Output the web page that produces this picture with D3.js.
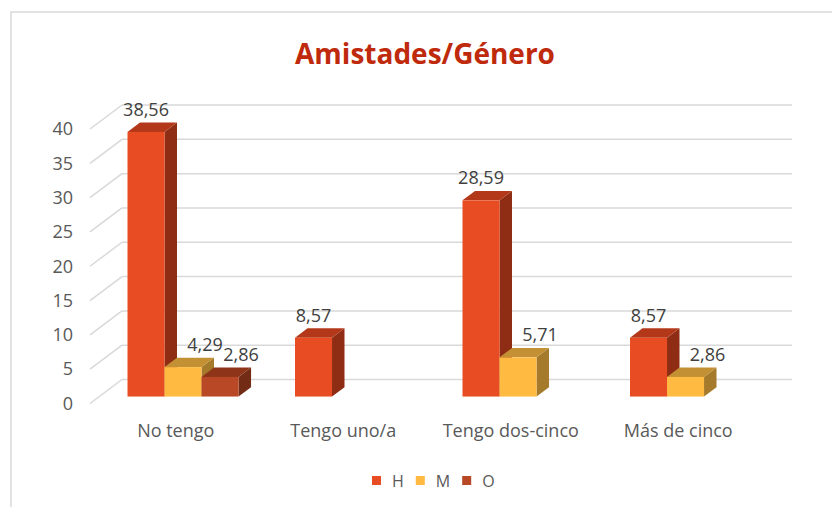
<!DOCTYPE html>
<html>
<head>
<meta charset="utf-8">
<script src="https://cdn.jsdelivr.net/npm/d3@7"></script>
<style>
  body { margin: 0; background: #fff; }
  svg { display: block; font-family: "Open Sans", sans-serif; }
</style>
</head>
<body>
<div id="chart"></div>
<script>
const categories = ["No tengo", "Tengo uno/a", "Tengo dos-cinco", "Más de cinco"];
const seriesNames = ["H", "M", "O"];
const valuesH = [38.56, 8.57, 28.59, 8.57];
const valuesM = [4.29, 0, 5.71, 2.86];
const valuesO = [2.86, 0, 0, 0];
const yTicks = [0, 5, 10, 15, 20, 25, 30, 35, 40];

const width = 832, height = 507;

// faces: front, top, side
const colors = {
    H: ["#E84C22", "#B3381A", "#8E2D13"],
    M: ["#FFBA42", "#C39034", "#A57A2A"],
    O: ["#B94826", "#8E3519", "#722B15"]
};
const labelShift = { H: 0, M: 22, O: 21 };

const series = [
    { name: "H", values: valuesH },
    { name: "M", values: valuesM },
    { name: "O", values: valuesO }
];

const fmt = d3.formatLocale({ decimal: ",", thousands: ".", grouping: [3], currency: ["", ""] }).format(".2f");

// 3d depth: full floor depth moves (32, -24)
const DX = 32, DY = -24;
const zF = 0.29, zB = 0.68;

const y = d3.scaleLinear().domain([0, 40]).range([403.5, 129]);
const x0 = d3.scaleBand().domain(categories).range([90, 760])
        .paddingInner(0.337).paddingOuter(0.1685);
const x1 = d3.scaleBand().domain(seriesNames).range([0, x0.bandwidth()]);

const proj = (x, v, z) => [x + z * DX, y(v) + z * DY];

const svg = d3.select("#chart").append("svg")
        .attr("width", width)
        .attr("height", height);

svg.append("rect")
    .attr("x", 11).attr("y", 12)
    .attr("width", width + 20).attr("height", height + 20)
    .attr("fill", "#fff")
    .attr("stroke", "#D9D9D9")
    .attr("stroke-width", 1.5);

svg.append("text")
    .attr("x", 425).attr("y", 64)
    .attr("text-anchor", "middle")
    .attr("font-size", 28)
    .attr("font-weight", "bold")
    .attr("fill", "#BF2A0C")
    .text("Amistades/Género");

// gridlines: diagonal on the left + back wall
const grid = svg.append("g").attr("stroke", "#D9D9D9").attr("stroke-width", 1.5).attr("fill", "none");
grid.selectAll(".diag").data(yTicks).join("line")
    .attr("x1", d => proj(90, d, 0)[0]).attr("y1", d => proj(90, d, 0)[1])
    .attr("x2", d => proj(90, d, 1)[0]).attr("y2", d => proj(90, d, 1)[1]);
grid.selectAll(".back").data(yTicks).join("line")
    .attr("x1", d => proj(90, d, 1)[0]).attr("y1", d => proj(90, d, 1)[1])
    .attr("x2", d => proj(760, d, 1)[0]).attr("y2", d => proj(760, d, 1)[1]);

svg.append("g").selectAll("text").data(yTicks).join("text")
    .attr("x", 73).attr("y", d => y(d))
    .attr("dy", "0.35em")
    .attr("text-anchor", "end")
    .attr("font-size", 18)
    .attr("fill", "#595959")
    .text(d => d);

svg.append("g").selectAll("text").data(categories).join("text")
    .attr("x", d => x0(d) + x0.bandwidth() / 2 + 2)
    .attr("y", 437)
    .attr("text-anchor", "middle")
    .attr("font-size", 18)
    .attr("fill", "#595959")
    .text(d => d);

// bars, left to right so later fronts cover earlier sides
const bars = [];
categories.forEach((c, i) => {
    series.forEach(s => {
        const v = s.values[i];
        if (v > 0) bars.push({ cat: c, name: s.name, value: v });
    });
});

const bar = svg.append("g").selectAll("g").data(bars).join("g");

bar.append("polygon")
    .attr("fill", d => colors[d.name][2])
    .attr("points", d => {
        const xr = x0(d.cat) + x1(d.name) + x1.bandwidth();
        return [proj(xr, d.value, zF), proj(xr, 0, zF), proj(xr, 0, zB), proj(xr, d.value, zB)].join(" ");
    });

bar.append("polygon")
    .attr("fill", d => colors[d.name][1])
    .attr("points", d => {
        const xl = x0(d.cat) + x1(d.name), xr = xl + x1.bandwidth();
        return [proj(xl, d.value, zF), proj(xr, d.value, zF), proj(xr, d.value, zB), proj(xl, d.value, zB)].join(" ");
    });

bar.append("rect")
    .attr("fill", d => colors[d.name][0])
    .attr("x", d => proj(x0(d.cat) + x1(d.name), d.value, zF)[0])
    .attr("y", d => proj(0, d.value, zF)[1])
    .attr("width", x1.bandwidth())
    .attr("height", d => y(0) - y(d.value));

svg.append("g").selectAll("text").data(bars).join("text")
    .attr("x", d => proj(x0(d.cat) + x1(d.name) + x1.bandwidth() / 2, d.value, zF)[0] + labelShift[d.name])
    .attr("y", d => proj(0, d.value, zF)[1] - 16)
    .attr("text-anchor", "middle")
    .attr("font-size", 18)
    .attr("fill", "#404040")
    .text(d => fmt(d.value));

// legend
const legend = svg.append("g");
let lx = 372;
series.forEach(s => {
    legend.append("rect")
        .attr("x", lx).attr("y", 476)
        .attr("width", 9).attr("height", 9)
        .attr("fill", colors[s.name][0]);
    const t = legend.append("text")
        .attr("x", lx + 20).attr("y", 487)
        .attr("font-size", 16)
        .attr("fill", "#595959")
        .text(s.name);
    lx += 20 + t.node().getComputedTextLength() + 12;
});
</script>
</body>
</html>
